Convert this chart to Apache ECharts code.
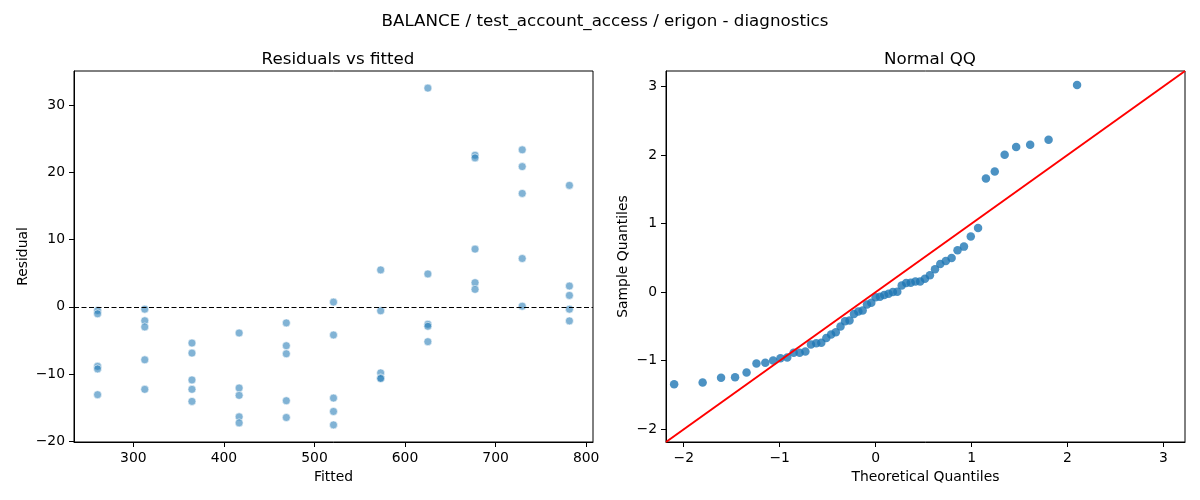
<!DOCTYPE html>
<html>
<head>
<meta charset="utf-8">
<title>diagnostics</title>
<script src="https://cdn.jsdelivr.net/npm/echarts@6/dist/echarts.min.js"></script>
<style>
  html, body { margin: 0; padding: 0; background: #fff; }
  #chart { width: 1200px; height: 500px; }
</style>
</head>
<body>
<div id="chart"></div>
<script>
// residuals vs fitted
const fitted = [
  260.5, 260.5, 260.5, 260.5, 260.5,
  312.6, 312.6, 312.6, 312.6, 312.6,
  364.7, 364.7, 364.7, 364.7, 364.7,
  416.8, 416.8, 416.8, 416.8, 416.8,
  468.9, 468.9, 468.9, 468.9, 468.9,
  521.0, 521.0, 521.0, 521.0, 521.0,
  573.1, 573.1, 573.1, 573.1, 573.1,
  625.2, 625.2, 625.2, 625.2, 625.2,
  677.3, 677.3, 677.3, 677.3, 677.3,
  729.4, 729.4, 729.4, 729.4, 729.4,
  781.5, 781.5, 781.5, 781.5, 781.5
]
const residual = [
  -0.55, -1.04, -8.87, -9.26, -13.1,
  -0.35, -2.08, -3.0, -7.9, -12.3,
  -5.4, -6.9, -10.9, -12.3, -14.1,
  -3.9, -12.1, -13.2, -16.4, -17.3,
  -2.4, -5.8, -7.0, -14.0, -16.5,
  0.7, -4.2, -13.6, -15.6, -17.6,
  5.5, -0.6, -9.85, -10.6, -10.7,
  32.6, 4.9, -2.6, -2.9, -5.2,
  22.6, 22.2, 8.6, 3.6, 2.6,
  23.4, 20.9, 16.9, 7.2, 0.1,
  18.1, 3.1, 1.7, -0.35, -2.1
]

// normal QQ
const theoretical = [
  -2.100, -1.803, -1.611, -1.465, -1.345, -1.242, -1.150, -1.068, -0.992, -0.921,
  -0.854, -0.792, -0.732, -0.674, -0.619, -0.566, -0.514, -0.464, -0.415, -0.366,
  -0.319, -0.272, -0.226, -0.180, -0.135, -0.090, -0.045, 0.000, 0.045, 0.090,
  0.135, 0.180, 0.226, 0.272, 0.319, 0.366, 0.415, 0.464, 0.514, 0.566,
  0.619, 0.674, 0.732, 0.792, 0.854, 0.921, 0.992, 1.068, 1.150, 1.242,
  1.345, 1.465, 1.611, 1.803, 2.100
]
const sample = [
  -1.344, -1.318, -1.249, -1.240, -1.170, -1.040, -1.031, -0.997, -0.962, -0.953,
  -0.883, -0.883, -0.866, -0.762, -0.744, -0.736, -0.670, -0.619, -0.585, -0.501,
  -0.423, -0.414, -0.318, -0.283, -0.266, -0.179, -0.153, -0.075, -0.066, -0.040,
  -0.023, 0.003, 0.005, 0.096, 0.134, 0.138, 0.156, 0.156, 0.195, 0.247,
  0.334, 0.412, 0.456, 0.499, 0.612, 0.664, 0.812, 0.934, 1.656, 1.760,
  2.003, 2.117, 2.151, 2.221, 3.021
]
const qqLimits = [-2.185, 3.225]

const fittedTicks = [300, 400, 500, 600, 700, 800]
const residualTicks = [-20, -10, 0, 10, 20, 30]
const quantileTicks = [-2, -1, 0, 1, 2, 3]

const FONT = 'DejaVu Sans'
const minus = (v) => String(v).replace('-', '\u2212')

function axis (extra, ticks) {
  return Object.assign({
    type: 'value',
    nameLocation: 'middle',
    nameTextStyle: { fontFamily: FONT, fontSize: 13.9, color: '#000' },
    axisLine: { show: true, onZero: false, lineStyle: { color: '#000', width: 1 } },
    axisTick: { show: true, length: 5, lineStyle: { color: '#000' }, customValues: ticks },
    axisLabel: {
      fontFamily: FONT, fontSize: 13.9, color: '#000', margin: 9,
      customValues: ticks, formatter: minus
    },
    splitLine: { show: false }
  }, extra)
}

const chart = echarts.init(document.getElementById('chart'))
chart.setOption({
  animation: false,
  backgroundColor: '#fff',
  title: [
    { text: 'BALANCE / test_account_access / erigon - diagnostics', left: 600, top: 8, textAlign: 'center',
      textStyle: { fontFamily: FONT, fontSize: 16.7, fontWeight: 'normal', color: '#000' } },
    { text: 'Residuals vs fitted', left: 333, top: 46, textAlign: 'center',
      textStyle: { fontFamily: FONT, fontSize: 16.7, fontWeight: 'normal', color: '#000' } },
    { text: 'Normal QQ', left: 925, top: 46, textAlign: 'center',
      textStyle: { fontFamily: FONT, fontSize: 16.7, fontWeight: 'normal', color: '#000' } }
  ],
  grid: [
    { left: 74, top: 71, width: 519, height: 371, show: true, borderColor: '#000', borderWidth: 1, backgroundColor: 'transparent' },
    { left: 666, top: 71, width: 519, height: 371, show: true, borderColor: '#000', borderWidth: 1, backgroundColor: 'transparent' }
  ],
  xAxis: [
    axis({ gridIndex: 0, min: 234.45, max: 807.55, name: 'Fitted', nameGap: 27 }, fittedTicks),
    axis({ gridIndex: 1, min: qqLimits[0], max: qqLimits[1], name: 'Theoretical Quantiles', nameGap: 27 }, quantileTicks)
  ],
  yAxis: [
    axis({ gridIndex: 0, min: -20.15, max: 35.15, name: 'Residual', nameGap: 44 }, residualTicks),
    axis({ gridIndex: 1, min: qqLimits[0], max: qqLimits[1], name: 'Sample Quantiles', nameGap: 36 }, quantileTicks)
  ],
  series: [
    {
      type: 'scatter',
      xAxisIndex: 0,
      yAxisIndex: 0,
      symbolSize: 8,
      data: fitted.map((f, i) => [f, residual[i]]),
      itemStyle: { color: 'rgba(31,119,180,0.7)', borderColor: 'rgba(255,255,255,0.9)', borderWidth: 0.8 },
      markLine: {
        silent: true,
        symbol: 'none',
        label: { show: false },
        lineStyle: { color: '#000', width: 1, type: [5, 2.5] },
        data: [{ yAxis: 0 }]
      },
      z: 3
    },
    {
      type: 'line',
      xAxisIndex: 1,
      yAxisIndex: 1,
      data: qqLimits.map((v) => [v, v]),
      symbol: 'none',
      lineStyle: { color: '#ff0000', width: 2 },
      clip: true,
      z: 4
    },
    {
      type: 'scatter',
      xAxisIndex: 1,
      yAxisIndex: 1,
      symbolSize: 8.5,
      data: theoretical.map((t, i) => [t, sample[i]]),
      itemStyle: { color: '#1f77b4' },
      z: 3
    }
  ]
})

window.addEventListener('resize', () => {
  chart.resize()
})
</script>
</body>
</html>
